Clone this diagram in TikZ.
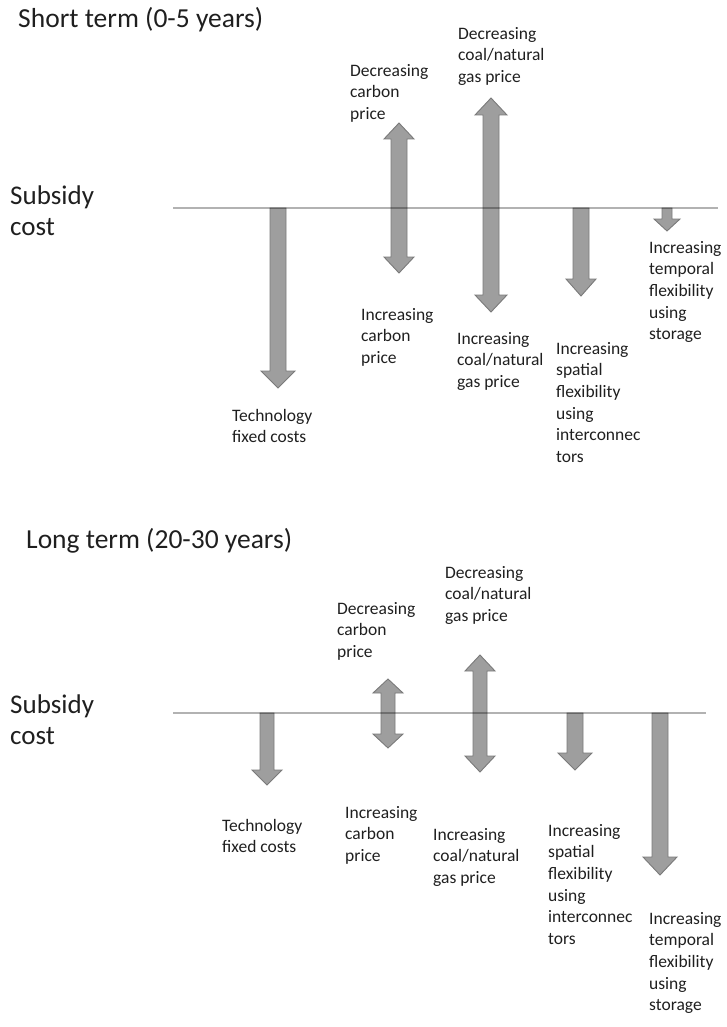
\documentclass[tikz,border=0pt]{standalone}
\usepackage{fontspec}
\setmainfont{Carlito}
\newcommand{\downblock}[6]{% x, ytop, ybot, shaft half, head half, head length
  \filldraw[blockarrow] (#1-#4,#2) -- (#1+#4,#2) -- (#1+#4,#3-#6) -- (#1+#5,#3-#6) -- (#1,#3)
    -- (#1-#5,#3-#6) -- (#1-#4,#3-#6) -- cycle;}
\newcommand{\dblblock}[6]{% x, ytop, ybot, shaft half, head half, head length
  \filldraw[blockarrow] (#1,#2) -- (#1+#5,#2+#6) -- (#1+#4,#2+#6) -- (#1+#4,#3-#6) -- (#1+#5,#3-#6)
    -- (#1,#3) -- (#1-#5,#3-#6) -- (#1-#4,#3-#6) -- (#1-#4,#2+#6) -- (#1-#5,#2+#6) -- cycle;}
\begin{document}
\begin{tikzpicture}[x=1pt,y=-1pt,
  blockarrow/.style={fill=black!38,draw=black!52,line width=0.9pt,line join=miter},
  axisline/.style={draw=black,opacity=0.3,line width=1.6pt},
  lbl/.style={anchor=north west,inner sep=0pt,align=left,font=\fontsize{17.5}{21.6}\selectfont,text=black!88},
  head/.style={anchor=base west,inner sep=0pt,font=\fontsize{27.5}{33}\selectfont,text=black!88},
  ylbl/.style={anchor=north west,inner sep=0pt,align=left,font=\fontsize{27}{31}\selectfont,text=black!88}]
\useasboundingbox (0,0) rectangle (726,1027);

% ---------------- Short term ----------------
\node[head] (stitle) at (18,28) {Short term (0-5 years)};
\node[ylbl] (sy) at (10,183) {\strut Subsidy\\cost};

\downblock{278}{208}{388}{8}{17}{17}
\dblblock{399}{123}{273}{8}{15}{16}
\dblblock{491}{98}{312}{8}{16}{17}
\downblock{581}{208}{296}{8}{15}{17}
\downblock{667}{208}{231}{5}{13}{12}

\coordinate (sL) at (173,208);
\coordinate (sR) at (718,208);
\draw[axisline] (sL) -- (sR);

\node[lbl] (sdc) at (350,61) {\strut Decreasing\\carbon\\price};
\node[lbl] (sdg) at (458,24) {\strut Decreasing\\coal/natural\\gas price};
\node[lbl] (sic) at (361,305) {\strut Increasing\\carbon\\price};
\node[lbl] (sig) at (457,329) {\strut Increasing\\coal/natural\\gas price};
\node[lbl] (stf) at (232,406) {\strut Technology\\fixed costs};
\node[lbl] (ssp) at (556,339) {\strut Increasing\\spatial\\flexibility\\using\\interconnec\\tors};
\node[lbl] (stp) at (649,238) {\strut Increasing\\temporal\\flexibility\\using\\storage};

% ---------------- Long term ----------------
\node[head] (ltitle) at (26,548) {Long term (20-30 years)};
\node[ylbl] (ly) at (10,692) {\strut Subsidy\\cost};

\downblock{267}{713}{785}{7}{15}{15}
\dblblock{388}{679}{748}{7}{15}{14}
\dblblock{480}{655}{772}{7}{15}{16}
\downblock{575}{713}{770}{8}{17}{17}
\downblock{660}{713}{875}{8}{17}{18}

\coordinate (lL) at (173,713);
\coordinate (lR) at (706,713);
\draw[axisline] (lL) -- (lR);

\node[lbl] (ldc) at (337,599) {\strut Decreasing\\carbon\\price};
\node[lbl] (ldg) at (445,563) {\strut Decreasing\\coal/natural\\gas price};
\node[lbl] (lic) at (345,803) {\strut Increasing\\carbon\\price};
\node[lbl] (lig) at (433,825) {\strut Increasing\\coal/natural\\gas price};
\node[lbl] (ltf) at (222,816) {\strut Technology\\fixed costs};
\node[lbl] (lsp) at (548,821) {\strut Increasing\\spatial\\flexibility\\using\\interconnec\\tors};
\node[lbl] (ltp) at (649,909) {\strut Increasing\\temporal\\flexibility\\using\\storage};
\end{tikzpicture}
\end{document}
